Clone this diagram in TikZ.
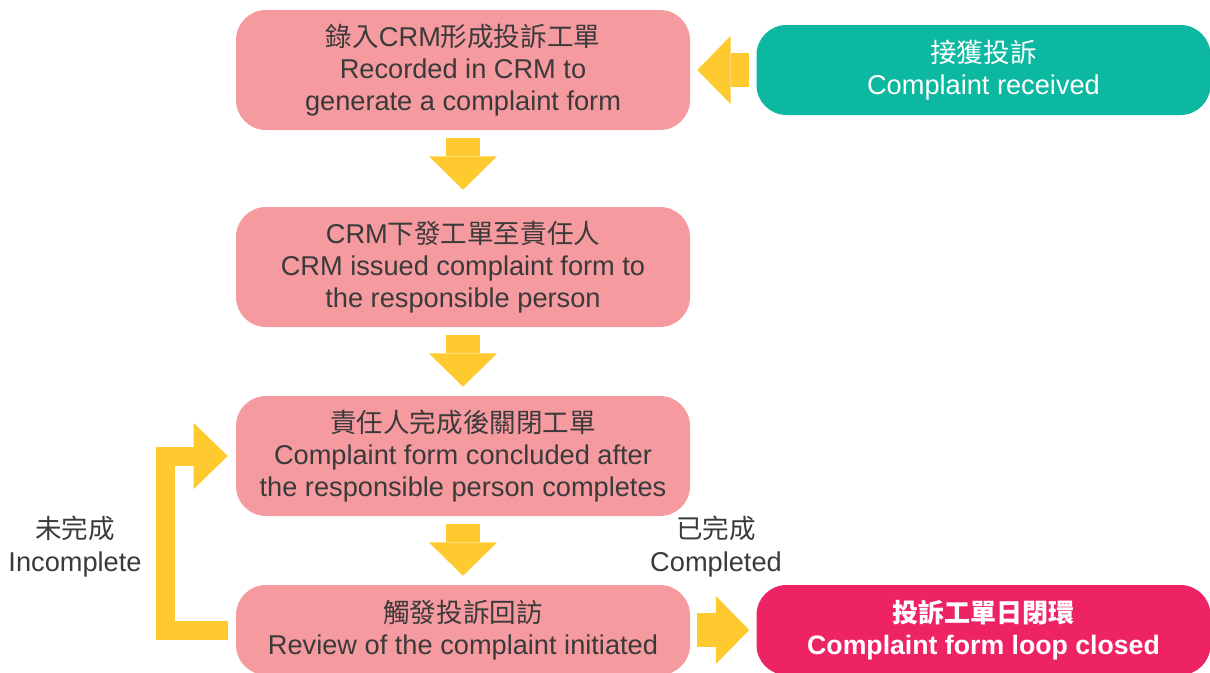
\documentclass[tikz,border=0pt]{standalone}
\usepackage{fontspec}
\setmainfont{Liberation Sans}
\newfontfamily\cjk[Scale=0.975]{Noto Sans CJK TC}
\usetikzlibrary{arrows.meta}

\definecolor{stagepink}{HTML}{F59A9F}
\definecolor{startgreen}{HTML}{0CB8A0}
\definecolor{endred}{HTML}{EE2363}
\definecolor{flowyellow}{HTML}{FFCA2F}
\definecolor{textgray}{HTML}{3A3A3A}

\tikzset{
  stagebox/.style={fill=stagepink, rounded corners=22.5pt,
    minimum width=340.5pt, minimum height=90pt, inner sep=0pt,
    align=center, text=textgray, font=\fontsize{20.4}{24}\selectfont},
  endbox/.style={stagebox, minimum height=67.5pt, text=white},
  notetext/.style={align=center, text=textgray, inner sep=0pt,
    font=\fontsize{20.4}{24.75}\selectfont},
  flowarrow/.style={draw=flowyellow, line width=25.5pt,
    -{Triangle[length=25pt, width=51pt, line width=0pt, fill=flowyellow]}},
  loopline/.style={draw=flowyellow, line width=14.25pt, line join=miter,
    -{Triangle[length=25.5pt, width=49.5pt, line width=0pt, fill=flowyellow]}}
}

\begin{document}
\begin{tikzpicture}[x=0.75pt, y=-0.75pt]
  \useasboundingbox (0,0) rectangle (1210,672);
  % Stufen
  \node[stagebox] (record) at (463,70)
    {{\cjk 錄入}CRM{\cjk 形成投訴工單}\\Recorded in CRM to\\generate a complaint form};
  \node[stagebox] (issue) at (463,267)
    {CRM{\cjk 下發工單至責任人}\\CRM issued complaint form to\\the responsible person};
  \node[stagebox] (conclude) at (463,456)
    {{\cjk 責任人完成後關閉工單}\\Complaint form concluded after\\the responsible person completes};
  \node[stagebox, minimum height=67.5pt] (review) at (463,630)
    {{\cjk 觸發投訴回訪}\\Review of the complaint initiated};
  % Anfang und Ende
  \node[endbox, fill=startgreen] (received) at (983.5,70)
    {{\cjk 接獲投訴}\\Complaint received};
  \node[endbox, fill=endred, font=\fontsize{20}{24}\selectfont\bfseries] (closed) at (983.5,630)
    {{\cjk\bfseries 投訴工單日閉環}\\Complaint form loop closed};
  % Pfeile
  \draw[flowarrow] ([xshift=-5.25pt]received.west) -- ([xshift=5.25pt]record.east);
  \draw[flowarrow] ([yshift=-6pt]record.south) -- ([yshift=12.75pt]issue.north);
  \draw[flowarrow] ([yshift=-6pt]issue.south) -- ([yshift=6.75pt]conclude.north);
  \draw[flowarrow] ([yshift=-6pt]conclude.south) -- ([yshift=6.75pt]review.north);
  \draw[flowarrow] ([xshift=5.25pt]review.east) -- ([xshift=-5.25pt]closed.west);
  \draw[loopline] ([xshift=-6pt]review.west) -| ([xshift=-52.9pt]conclude.west)
    -- ([xshift=-6pt]conclude.west);
  % Beschriftungen
  \node[notetext] (incomplete) at (75,547) {{\cjk 未完成}\\Incomplete};
  \node[notetext] (completed) at (716,547) {{\cjk 已完成}\\Completed};
\end{tikzpicture}
\end{document}
